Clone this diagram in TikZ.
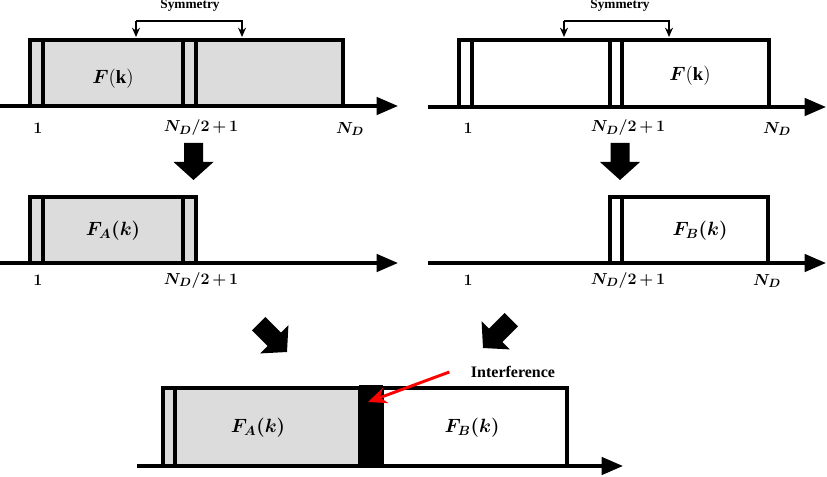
\documentclass[tikz,border=0pt]{standalone}
\usepackage{fontspec}
\setmainfont{Liberation Serif}
\usepackage{amsmath}
\usepackage{bm}
\usetikzlibrary{arrows.meta}
\definecolor{boxgray}{HTML}{DCDCDC}
\tikzset{
  axisline/.style={line width=2.6pt,-{Triangle[length=16pt,width=13pt]}},
  boxline/.style={line width=2.3pt},
  grayfill/.style={boxline,fill=boxgray},
  whitefill/.style={boxline,fill=white},
  lbl/.style={font=\fontsize{12.5}{14}\selectfont,inner sep=0pt},
  flbl/.style={font=\fontsize{14}{16}\selectfont,inner sep=0pt},
  smallt/.style={font=\bfseries\fontsize{10}{12}\selectfont,inner sep=0pt},
  symarrow/.style={line width=1.3pt,-{Stealth[length=7pt,width=6pt]}},
}
\newcommand{\bigarrow}[4]{\fill[shift={(#1,#2)},rotate=#3] (0,0) -- (-18,20) -- (-18,9.5) -- (-#4,9.5) -- (-#4,-9.5) -- (-18,-9.5) -- (-18,-20) -- cycle;}
\newcommand{\midlbl}{$\bm{N_D/2\,{+}\,1}$}
\begin{document}
\begin{tikzpicture}[x=0.75pt,y=-0.75pt]
\useasboundingbox (0,0) rectangle (827,477);
% ---------- top left ----------
\draw[grayfill] (30,40) rectangle (343,106);
\draw[boxline] (43,40) -- (43,106) (183,40) -- (183,106) (196,40) -- (196,106);
\coordinate (tla) at (0,106); \coordinate (tlb) at (398,106);
\draw[axisline] (tla) -- (tlb);
\node[flbl] (fk1) at (113,79) {$\bm{F}(\mathbf{k})$};
\node[lbl] (one1) at (38,128) {$\bm{1}$};
\node[lbl] (mid1) at (201,128) {\midlbl};
\node[lbl] (nd1) at (350,129) {$\bm{N_D}$};
\node[smallt] (sym1) at (190,6) {Symmetry};
\coordinate (s1a) at (136,37); \coordinate (s1b) at (242,37);
\draw[symarrow] (136,21) -- (s1a);
\draw[symarrow] (136,21) -- (242,21) -- (s1b);
% ---------- top right ----------
\draw[whitefill] (459,40) rectangle (769,107);
\draw[boxline] (472,40) -- (472,107) (610,40) -- (610,107) (622,40) -- (622,107);
\coordinate (tra) at (428,107); \coordinate (trb) at (826,107);
\draw[axisline] (tra) -- (trb);
\node[flbl] (fk2) at (690,76) {$\bm{F}(\mathbf{k})$};
\node[lbl] (one2) at (468,128) {$\bm{1}$};
\node[lbl] (mid2) at (628,128) {\midlbl};
\node[lbl] (nd2) at (777,129) {$\bm{N_D}$};
\node[smallt] (sym2) at (620,6) {Symmetry};
\coordinate (s2a) at (564,37); \coordinate (s2b) at (669,37);
\draw[symarrow] (564,21) -- (s2a);
\draw[symarrow] (564,21) -- (669,21) -- (s2b);
% ---------- down arrows ----------
\bigarrow{193.5}{180}{-90}{37}
\bigarrow{620}{180}{-90}{37}
% ---------- middle left ----------
\draw[grayfill] (30,197) rectangle (196,263);
\draw[boxline] (43,197) -- (43,263) (183,197) -- (183,263);
\coordinate (mla) at (0,263); \coordinate (mlb) at (398,263);
\draw[axisline] (mla) -- (mlb);
\node[flbl] (fa1) at (113,231) {$\bm{F_A(k)}$};
\node[lbl] (one3) at (38,280) {$\bm{1}$};
\node[lbl] (mid3) at (201,280) {\midlbl};
% ---------- middle right ----------
\draw[whitefill] (610,197) rectangle (768,263);
\draw[boxline] (622,197) -- (622,263);
\coordinate (mra) at (428,263); \coordinate (mrb) at (826,263);
\draw[axisline] (mra) -- (mrb);
\node[flbl] (fb1) at (700,231) {$\bm{F_B(k)}$};
\node[lbl] (one4) at (468,280) {$\bm{1}$};
\node[lbl] (mid4) at (628,280) {\midlbl};
\node[lbl] (nd4) at (767,281) {$\bm{N_D}$};
% ---------- diagonal arrows ----------
\bigarrow{287}{352}{-45}{40}
\bigarrow{483}{348}{-135}{40}
% ---------- bottom ----------
\draw[grayfill] (163,388) rectangle (360,466);
\draw[whitefill] (382,388) rectangle (567,466);
\draw[boxline] (175,388) -- (175,466);
\fill (359,385) rectangle (383,466);
\coordinate (ba) at (137,466); \coordinate (bb) at (623,466);
\draw[axisline] (ba) -- (bb);
\node[flbl] (fa2) at (258,428) {$\bm{F_A(k)}$};
\node[flbl] (fb2) at (472,428) {$\bm{F_B(k)}$};
\node[smallt,font=\bfseries\fontsize{12}{14}\selectfont] (intf) at (513,372) {Interference};
\coordinate (blk) at (368,402);
\draw[red,line width=2.2pt,-{Stealth[length=14pt,width=12pt]}] ([xshift=-16pt]intf.west) -- (blk);
\end{tikzpicture}
\end{document}
